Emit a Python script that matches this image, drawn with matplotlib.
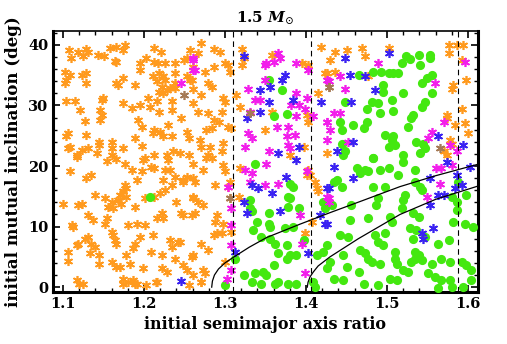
import matplotlib.pyplot as plt
from matplotlib.ticker import MultipleLocator

# star / circle positions (semimajor axis ratio, inclination in deg)
orange_x = [
    1.108, 1.119, 1.129, 1.131, 1.110, 1.143, 1.151, 1.158, 1.166, 1.174, 1.176, 1.125, 1.164, 1.166,
    1.195, 1.203, 1.213, 1.221, 1.213, 1.217, 1.226, 1.238, 1.250, 1.257, 1.253,
    1.102, 1.109, 1.104, 1.102, 1.123, 1.129, 1.129, 1.166, 1.168, 1.174, 1.189, 1.195, 1.211, 1.216,
    1.224, 1.226, 1.222, 1.218, 1.224, 1.228, 1.232, 1.238, 1.238, 1.238, 1.253, 1.257, 1.218,
    1.104, 1.115, 1.121, 1.148, 1.150, 1.146, 1.148, 1.146, 1.127, 1.174, 1.185, 1.195, 1.205, 1.207,
    1.216, 1.218, 1.234, 1.234, 1.246, 1.193, 1.197, 1.213, 1.211, 1.220, 1.230, 1.224, 1.234, 1.253,
    1.255, 1.106, 1.104, 1.128, 1.144, 1.144, 1.160, 1.160, 1.174, 1.189, 1.197, 1.109, 1.106, 1.117,
    1.123, 1.131, 1.142, 1.160, 1.213, 1.228, 1.236, 1.244, 1.201, 1.255,
    # lower left block
    1.117, 1.154, 1.166, 1.176, 1.199, 1.209, 1.213, 1.226, 1.230, 1.232, 1.238, 1.248, 1.253, 1.109,
    1.129, 1.135, 1.185, 1.197, 1.191, 1.224, 1.234, 1.226, 1.176, 1.178, 1.174, 1.170, 1.178, 1.168,
    1.172, 1.160, 1.156, 1.152, 1.162, 1.139, 1.189, 1.201, 1.220, 1.213, 1.222, 1.224, 1.100, 1.119,
    1.123, 1.131, 1.137, 1.154, 1.152, 1.111, 1.113, 1.180, 1.191, 1.201, 1.216, 1.246, 1.248, 1.259,
    1.261, 1.248, 1.160, 1.162, 1.131, 1.127, 1.135, 1.119, 1.117, 1.106, 1.106, 1.139, 1.133, 1.144,
    1.144, 1.164, 1.166, 1.189, 1.187, 1.195, 1.211, 1.209, 1.222, 1.232, 1.234, 1.242, 1.238, 1.244,
    1.259, 1.160, 1.166, 1.170, 1.178, 1.183, 1.199, 1.222, 1.228, 1.248, 1.253, 1.117, 1.125, 1.174,
    1.174, 1.187, 1.189, 1.203, 1.216, 1.255, 1.240, 1.120, 1.180, 1.192, 1.215, 1.270,
    # around the first dashed line
    1.271, 1.267, 1.286, 1.294, 1.300, 1.304, 1.286, 1.275, 1.306, 1.261, 1.259, 1.261, 1.279, 1.284,
    1.271, 1.298, 1.300, 1.314, 1.261, 1.267, 1.279, 1.296, 1.286, 1.292, 1.284, 1.304, 1.308, 1.277,
    1.269, 1.298, 1.271, 1.282, 1.279, 1.296, 1.319,
    1.321, 1.323, 1.321, 1.358, 1.395, 1.403, 1.358, 1.349, 1.401, 1.403, 1.415, 1.419, 1.423, 1.397,
    1.380,
    1.277, 1.284, 1.261, 1.273, 1.298, 1.300, 1.261, 1.263, 1.288, 1.306, 1.304, 1.319, 1.261, 1.267,
    1.273, 1.263, 1.290, 1.288, 1.298, 1.290, 1.296, 1.286, 1.317, 1.271, 1.279, 1.261, 1.300, 1.273,
    1.275, 1.261, 1.271, 1.306,
    1.403, 1.401, 1.405, 1.411, 1.413, 1.415, 1.407, 1.399, 1.308,
    # right part
    1.436, 1.430, 1.450, 1.469, 1.473, 1.502, 1.436, 1.426, 1.477, 1.576, 1.576, 1.586, 1.594, 1.592,
    1.598, 1.580, 1.582, 1.592, 1.574, 1.574, 1.584, 1.596, 1.600, 1.578, 1.580, 1.570, 1.574, 1.426,
]
orange_y = [
    39.2, 38.9, 39.3, 38.9, 37.8, 38.4, 38.2, 39.5, 39.6, 39.1, 40.0, 38.1, 37.4, 37.1,
    37.0, 37.8, 39.5, 38.8, 37.1, 37.0, 37.0, 37.0, 37.5, 39.1, 37.8,
    35.6, 35.1, 34.2, 33.7, 35.1, 35.4, 33.7, 33.7, 33.4, 34.5, 33.4, 35.9, 34.8, 34.0,
    34.8, 34.2, 33.1, 32.3, 32.0, 32.6, 32.9, 32.9, 35.3, 33.7, 34.8, 34.2, 35.3,
    30.7, 30.7, 29.3, 30.9, 31.2, 29.3, 28.4, 27.6, 27.5, 30.4, 29.6, 30.1, 31.2, 29.8,
    30.7, 29.0, 30.7, 29.3, 27.9, 27.6, 26.5, 26.0, 25.4, 25.7, 26.8, 24.9, 24.9, 25.7,
    24.6, 25.4, 24.9, 25.1, 24.0, 23.5, 24.0, 22.9, 22.9, 24.6, 23.3, 23.2, 22.9, 21.8,
    22.7, 22.9, 22.1, 21.8, 21.8, 21.8, 22.4, 22.1, 21.3, 21.8,
    21.5, 20.8, 21.2, 20.3, 21.0, 19.9, 19.6, 19.3, 21.0, 19.3, 18.2, 17.4, 18.2, 19.2,
    18.0, 18.6, 19.3, 19.1, 17.7, 17.7, 16.9, 16.0, 16.9, 16.3, 15.8, 15.2, 14.9, 14.4,
    13.8, 14.1, 13.3, 14.7, 13.0, 15.2, 13.3, 14.7, 15.5, 14.9, 12.2, 11.4, 13.8, 13.6,
    13.7, 11.9, 11.1, 11.4, 10.5, 10.2, 10.0, 10.2, 10.5, 10.2, 11.4, 12.2, 11.9, 11.9,
    14.9, 17.7, 9.1, 8.6, 8.3, 8.0, 7.2, 7.2, 6.9, 5.8, 4.3, 6.7, 5.6, 5.3,
    3.9, 7.8, 7.2, 7.2, 6.4, 8.3, 8.6, 5.8, 5.3, 7.8, 6.7, 7.5, 4.7, 7.5,
    5.0, 4.2, 3.3, 3.3, 5.3, 3.9, 3.1, 3.1, 2.5, 3.6, 2.8, 1.2, 0.6, 1.4,
    0.6, 1.2, 0.6, 0.3, 0.9, 0.3, 14.1, 0.5, 0.8, 0.5, 0.8, 0.8,
    40.3, 38.6, 39.4, 38.9, 37.0, 36.7, 36.4, 35.6, 35.6, 36.4, 34.2, 32.8, 33.7, 33.1,
    31.7, 31.2, 30.6, 31.7, 30.4, 29.0, 28.7, 29.0, 27.6, 27.3, 26.2, 26.5, 26.2, 26.0,
    24.3, 23.8, 23.2, 23.2, 21.8, 22.4, 29.8,
    39.4, 37.8, 36.7, 38.4, 37.0, 36.7, 29.0, 26.0, 28.4, 27.3, 32.0, 39.7, 35.3, 23.2,
    21.8,
    21.3, 21.3, 20.4, 19.3, 20.2, 19.1, 18.0, 17.4, 16.9, 17.4, 16.6, 19.6, 14.7, 14.1,
    13.6, 12.2, 11.9, 10.8, 10.5, 8.9, 8.9, 8.6, 14.9, 7.2, 6.1, 5.3, 4.2, 2.8,
    2.3, 2.0, 0.9, 14.7,
    19.3, 18.5, 18.5, 17.4, 16.3, 15.8, 10.8, 8.9, 9.1,
    38.9, 37.5, 39.2, 39.5, 38.1, 39.5, 35.6, 35.3, 34.8, 40.0, 38.6, 40.0, 40.0, 37.5,
    34.2, 32.8, 33.4, 29.5, 28.4, 27.9, 26.8, 27.1, 25.4, 24.3, 23.7, 22.4, 21.8, 22.1,
]

magenta_x = [
    1.246, 1.261, 1.261,
    1.261, 1.263, 1.349, 1.351, 1.360, 1.366, 1.368, 1.329, 1.349, 1.337, 1.343, 1.388, 1.403, 1.388,
    1.382, 1.391, 1.401, 1.399, 1.331, 1.364, 1.378, 1.388, 1.329, 1.333, 1.325, 1.376, 1.386, 1.378,
    1.380, 1.354, 1.426, 1.426, 1.409,
    1.325, 1.333, 1.351, 1.331, 1.349, 1.366, 1.304, 1.308, 1.308, 1.308, 1.308, 1.302, 1.393, 1.401,
    1.395, 1.399, 1.426, 1.428,
    1.489, 1.596, 1.442, 1.428, 1.448, 1.559, 1.434, 1.442, 1.426, 1.430, 1.426, 1.452, 1.570, 1.555,
    1.551, 1.578, 1.586,
    1.561, 1.567, 1.580, 1.565, 1.549, 1.428,
]
magenta_y = [
    33.7, 37.5, 35.9,
    37.8, 35.9, 36.7, 37.0, 37.2, 38.6, 37.8, 32.8, 34.2, 30.9, 30.9, 37.0, 35.9, 32.0,
    30.1, 30.1, 31.2, 29.5, 29.0, 26.5, 26.5, 28.2, 25.4, 24.6, 23.2, 24.9, 25.1, 23.5,
    22.9, 22.4, 34.2, 27.3, 28.2,
    19.3, 18.8, 20.4, 17.4, 16.9, 17.1, 16.6, 13.0, 10.2, 6.9, 2.8, 1.4, 11.9, 19.1,
    7.2, 2.3, 14.9, 14.1,
    37.0, 37.2, 34.8, 34.0, 32.8, 33.7, 28.7, 28.7, 27.3, 26.0, 24.3, 24.0, 27.3, 25.7,
    24.6, 23.5, 22.4,
    19.6, 19.6, 20.2, 17.1, 14.9, 14.7,
]

blue_x = [
    1.246,
    1.323, 1.374, 1.370, 1.356, 1.343, 1.354, 1.384, 1.343, 1.327, 1.366, 1.391, 1.419,
    1.388, 1.375, 1.333, 1.341, 1.358, 1.323, 1.327, 1.368, 1.312, 1.403, 1.417, 1.426, 1.424,
    1.448, 1.502, 1.454, 1.473, 1.485, 1.456, 1.458, 1.563, 1.594, 1.438,
    1.434, 1.458, 1.428, 1.553, 1.574, 1.586, 1.592, 1.584, 1.570, 1.563, 1.553, 1.426, 1.557,
    1.543, 1.545, 1.602,
]
blue_y = [
    1.0,
    38.1, 35.1, 34.2, 33.1, 32.6, 30.6, 30.9, 29.0, 27.9, 22.1, 23.2, 30.6,
    21.0, 18.2, 16.9, 16.3, 15.5, 14.1, 12.2, 12.5, 5.8, 5.6, 11.9, 16.3, 10.5,
    37.8, 38.7, 35.1, 34.8, 32.6, 30.6, 24.0, 24.9, 23.5, 22.4,
    19.9, 18.0, 16.3, 18.0, 20.7, 18.5, 16.9, 16.3, 15.2, 15.2, 13.6, 10.5, 9.7,
    8.9, 8.0, 19.9,
]

brown_x = [1.250, 1.331, 1.428, 1.306, 1.428, 1.565]
brown_y = [31.8, 28.7, 33.1, 14.7, 33.1, 22.9]

green_x = [
    1.208,
    1.354, 1.370, 1.360, 1.377,
    1.337, 1.380, 1.384, 1.331, 1.331, 1.333, 1.354, 1.378, 1.380, 1.378, 1.391, 1.339, 1.354, 1.356,
    1.335, 1.374, 1.384, 1.345, 1.356, 1.362, 1.366, 1.376, 1.380, 1.376, 1.388, 1.397, 1.312, 1.360,
    1.347, 1.351, 1.323, 1.337, 1.333, 1.345, 1.362, 1.366, 1.378, 1.388, 1.300, 1.409, 1.411, 1.421,
    1.424, 1.421, 1.426, 1.413,
    1.524, 1.528, 1.539, 1.553, 1.553, 1.518, 1.541, 1.465, 1.483, 1.493, 1.502, 1.508, 1.514, 1.555,
    1.549, 1.543, 1.495, 1.495, 1.520, 1.555, 1.448, 1.481, 1.489, 1.506, 1.547, 1.543, 1.475, 1.491,
    1.508, 1.532, 1.530, 1.442, 1.475, 1.458, 1.471, 1.526, 1.444, 1.497, 1.508, 1.506, 1.536, 1.545,
    1.502, 1.510, 1.547, 1.541, 1.444, 1.448, 1.446, 1.520, 1.483,
    1.483, 1.520, 1.534, 1.463, 1.473, 1.467, 1.477, 1.491, 1.502, 1.438, 1.434, 1.444, 1.483, 1.497,
    1.534, 1.541, 1.543, 1.588, 1.598, 1.432, 1.456, 1.489, 1.487, 1.522, 1.520, 1.580, 1.586, 1.518,
    1.532, 1.539, 1.504, 1.506, 1.454, 1.477, 1.442, 1.452, 1.485, 1.497, 1.489, 1.495, 1.528, 1.536,
    1.532, 1.563, 1.576, 1.582, 1.586, 1.596, 1.606, 1.426, 1.430, 1.446, 1.467, 1.473, 1.477, 1.481,
    1.491, 1.465, 1.450, 1.510, 1.510, 1.512, 1.534, 1.539, 1.534, 1.530, 1.543, 1.555, 1.567, 1.578,
    1.592, 1.598, 1.520, 1.526, 1.504, 1.512, 1.434, 1.446, 1.559, 1.567, 1.578, 1.551, 1.580, 1.594,
    1.604, 1.604, 1.563, 1.489, 1.471, 1.547, 1.514,
]
green_y = [
    14.9,
    34.2, 32.6, 28.2, 28.6,
    20.4, 17.1, 16.6, 14.4, 13.0, 12.5, 12.2, 14.9, 14.7, 13.3, 13.0, 10.8, 10.5, 10.0,
    9.4, 9.7, 10.0, 8.3, 8.0, 7.2, 5.6, 6.9, 5.3, 4.7, 5.3, 7.8, 4.7, 3.6,
    2.5, 2.0, 2.0, 2.3, 0.9, 0.6, 0.6, 0.9, 0.6, 0.6, 0.3, 0.9, 0.1, 14.1,
    13.0, 5.8, 3.1, 5.3,
    38.1, 37.6, 38.4, 38.4, 37.8, 37.0, 36.7, 35.1, 35.6, 35.6, 35.3, 35.3, 35.3, 35.1,
    34.5, 33.7, 33.4, 32.3, 32.1, 32.0, 30.6, 30.6, 30.4, 30.9, 30.6, 29.8, 29.5, 28.8,
    29.1, 28.4, 27.9, 27.3, 27.3, 26.8, 26.2, 26.5, 26.0, 25.1, 25.0, 24.3, 24.0, 23.7,
    23.2, 23.5, 22.9, 22.1, 23.7, 22.4, 21.8, 21.8, 21.3,
    21.3, 20.7, 19.3, 19.6, 19.3, 18.8, 19.1, 19.3, 19.6, 17.7, 17.4, 16.6, 16.6, 16.6,
    17.4, 16.6, 16.0, 17.4, 15.2, 13.6, 13.6, 14.7, 13.6, 15.2, 14.4, 14.9, 14.1, 13.0,
    12.2, 11.6, 11.6, 10.8, 11.1, 11.4, 8.6, 8.3, 8.6, 8.9, 7.5, 6.9, 9.7, 9.4,
    8.0, 7.2, 7.8, 10.8, 12.7, 10.5, 10.0, 6.9, 4.2, 5.3, 6.1, 5.6, 4.7, 4.2,
    3.9, 2.5, 3.3, 5.8, 4.7, 3.9, 5.8, 5.3, 4.7, 4.2, 4.5, 3.9, 4.7, 4.2,
    4.2, 3.6, 2.8, 2.5, 1.4, 1.2, 1.4, 1.2, 1.7, 1.2, 1.2, 2.3, 0.1, 0.1,
    1.2, 2.8, -0.2, 0.3, 0.6, 8.3, 18.5,
]

# dashed vertical lines and the two black boundary curves
vlines = [1.31, 1.406, 1.587]
curve1_x = [1.2836, 1.2845, 1.287, 1.292, 1.300, 1.310, 1.330, 1.3515, 1.3926, 1.4296, 1.470, 1.516,
            1.560, 1.6125]
curve1_y = [0.0, 1.0, 2.0, 3.0, 4.0, 4.9, 6.6, 8.2, 10.4, 12.3, 14.3, 16.6, 18.4, 20.3]
curve2_x = [1.4016, 1.4025, 1.405, 1.409, 1.415, 1.4296, 1.4646, 1.516, 1.560, 1.6125]
curve2_y = [0.0, 0.8, 1.7, 2.5, 3.5, 5.0, 8.0, 12.0, 14.5, 16.7]

plt.rcParams['font.family'] = 'DejaVu Serif'
plt.rcParams['mathtext.fontset'] = 'dejavuserif'

fig = plt.figure(figsize=(5.07, 3.44), dpi=100)
ax = fig.add_axes([0.1045, 0.1512, 0.8383, 0.7587])

star = (6, 2, 0)
ax.plot(orange_x, orange_y, linestyle='none', marker=star, markersize=6.5,
        markeredgewidth=1.2, color='#FF9A1E', zorder=2)
ax.plot(green_x, green_y, linestyle='none', marker='o', markersize=6.6,
        markeredgewidth=0, color='#44E810', zorder=3)
ax.plot(magenta_x, magenta_y, linestyle='none', marker=star, markersize=6.5,
        markeredgewidth=1.2, color='#F21EEB', zorder=4)
ax.plot(blue_x, blue_y, linestyle='none', marker=star, markersize=6.5,
        markeredgewidth=1.2, color='#3A22F2', zorder=4)
ax.plot(brown_x, brown_y, linestyle='none', marker=star, markersize=6.5,
        markeredgewidth=1.2, color='#A57A55', zorder=4)

for xv in vlines:
    ax.axvline(xv, color='black', linestyle=(0, (5, 3.5)), linewidth=0.8, zorder=5)
ax.plot(curve1_x, curve1_y, color='black', linewidth=0.9, zorder=5)
ax.plot(curve2_x, curve2_y, color='black', linewidth=0.9, zorder=5)

ax.set_xlim(1.0877, 1.6123)
ax.set_ylim(-0.8, 42.3)
ax.xaxis.set_major_locator(MultipleLocator(0.1))
ax.xaxis.set_minor_locator(MultipleLocator(0.02))
ax.yaxis.set_major_locator(MultipleLocator(10))
ax.yaxis.set_minor_locator(MultipleLocator(2))
ax.tick_params(which='both', direction='in', top=True, right=True, labelsize=10.5)
ax.tick_params(which='major', length=5, width=1.2)
ax.tick_params(which='minor', length=3, width=1.0)
for lab in ax.get_xticklabels() + ax.get_yticklabels():
    lab.set_fontweight('bold')
for side in ['left', 'bottom', 'right']:
    ax.spines[side].set_linewidth(2.2)
ax.spines['top'].set_linewidth(1.2)

ax.set_xlabel('initial semimajor axis ratio', fontsize=11.5, fontweight='bold', labelpad=4)
ax.set_ylabel('initial mutual inclination (deg)', fontsize=12, fontweight='bold', labelpad=4)
ax.set_title(r'1.5 $\mathbfit{M}_{\odot}$', fontsize=11, fontweight='bold', pad=6)

fig.savefig('out.png', dpi=100)
